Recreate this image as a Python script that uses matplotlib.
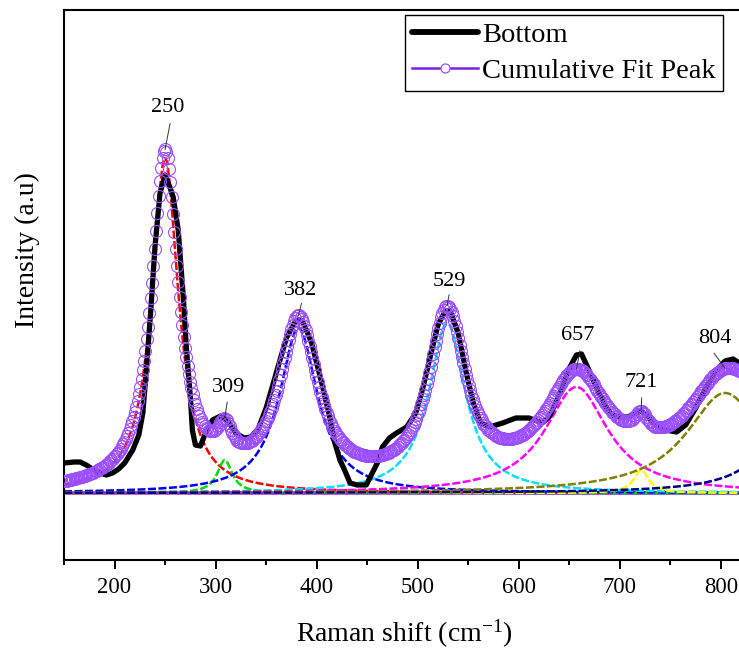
import numpy as np
import matplotlib
matplotlib.use("Agg")
import matplotlib.pyplot as plt
from matplotlib.lines import Line2D
from matplotlib.ticker import MultipleLocator

plt.rcParams['font.family'] = ['Liberation Serif', 'DejaVu Serif']
plt.rcParams['mathtext.fontset'] = 'custom'
plt.rcParams['mathtext.rm'] = 'Liberation Serif'
plt.rcParams['mathtext.it'] = 'Liberation Serif:italic'

# Measured Raman spectrum (bottom sample)
shift = [150, 160, 166, 172, 178, 186, 192, 198, 204, 210, 218, 224, 228, 232,
         236, 240, 245, 250, 255, 258, 263, 268, 271, 275, 277, 280, 285, 290,
         297, 305, 312, 320, 328, 335, 342, 350, 360, 370, 378, 382, 386, 395,
         405, 412, 418, 423, 428, 433, 440, 449, 455, 460, 465, 472, 479, 489,
         498, 505, 512, 520, 527, 532, 540, 548, 555, 562, 571, 584, 597, 610,
         623, 630, 640, 650, 657, 662, 667, 675, 685, 692, 700, 708, 715, 721,
         728, 735, 745, 756, 765, 775, 785, 795, 804, 812, 818]
intensity = [30, 31, 31, 28, 24, 20, 18, 20, 24, 30, 43, 58, 80, 130,
             185, 246, 300, 318, 305, 296, 263, 196, 146, 96, 63, 48, 47, 60,
             73, 77, 72, 60, 55, 56, 64, 85, 120, 155, 170, 173, 172, 150,
             110, 80, 50, 33, 22, 10, 8, 8, 20, 30, 46, 55, 60, 66,
             80, 105, 135, 168, 182, 182, 160, 120, 90, 70, 66, 70, 75, 75,
             70, 76, 98, 125, 138, 139, 128, 110, 88, 78, 76, 76, 80, 82,
             76, 68, 63, 61, 68, 85, 105, 122, 132, 134, 130]

# Lorentzian components of the multi-peak fit
peak_centers = [250, 309, 382, 529, 657, 721, 804, 875]
peak_heights = [335, 33, 165, 170, 106, 23, 100, 95]
peak_hwhm = [16, 9, 23, 22, 38, 9, 47, 32]
peak_colors = ['#FF0000', '#00DD00', '#0000FF', '#00E0FF',
               '#FF00FF', '#FFFF00', '#808000', '#000080']
peak_labels = ['250', '309', '382', '529', '657', '721', '804']

# label placement (pixel offsets from the fitted curve at each centre)
label_text_offsets = [(3, 42), (3.5, 31), (2, 25), (2, 24), (1.5, 33), (0.5, 28), (-10, 30)]
leader_offsets = [((5, 26), (1, 13)), ((2.5, 16), (1.5, 10)), ((3, 12), (3, 10)),
                  ((2, 11), (2, 9)), ((3.5, 18), (2.5, 12)), ((0.5, 13), (0.5, 11)),
                  ((-11, 15), (-7, 11))]


def lorentz(x, c, h, w):
    return h / (1.0 + ((x - c) / w) ** 2)


xfit = np.arange(150, 835, 1.3)
components = [lorentz(xfit, c, h, w) for c, h, w in zip(peak_centers, peak_heights, peak_hwhm)]
cumulative = np.sum(components, axis=0)

fit_line = '#7B1FE6'
fit_ring = '#9A4EFF'

fig = plt.figure(figsize=(7.39, 6.51), dpi=100)
ax = fig.add_axes([64 / 739, 91 / 651, 675 / 739, 550 / 651])

ax.axhline(0, color='#8A2BE2', lw=2.6, zorder=1)
for comp, col in zip(components, peak_colors):
    ax.plot(xfit, comp, color=col, lw=1.8, ls=(0, (3.2, 1.0)), zorder=2)

ax.plot(shift, intensity, color='black', lw=3.8, solid_joinstyle='round',
        solid_capstyle='round', zorder=3)
ax.plot(xfit, cumulative, ls='none', marker='o', ms=8.6,
        mfc='none', mec=fit_ring, mew=0.8, zorder=4)

for c, lab, toff, (l1, l2) in zip(peak_centers, peak_labels, label_text_offsets, leader_offsets):
    yc = float(np.sum([lorentz(c, pc, ph, pw) for pc, ph, pw in
                       zip(peak_centers, peak_heights, peak_hwhm)]))
    ax.annotate(lab, xy=(c, yc), xytext=toff, textcoords='offset pixels',
                ha='center', va='center', fontsize=16, zorder=6)
    ax.annotate('', xy=(c, yc), xytext=l1, textcoords='offset pixels', zorder=6,
                arrowprops=dict(arrowstyle='-', lw=0.7, color='#333333',
                                shrinkA=0, shrinkB=0,
                                patchA=None, patchB=None,
                                relpos=(0.5, 0.5)))

ax.set_xlim(150, 817.8)
ax.set_ylim(-67, 483)
ax.xaxis.set_major_locator(MultipleLocator(100))
ax.xaxis.set_minor_locator(MultipleLocator(50))
ax.tick_params(axis='x', which='major', direction='out', length=6.5, width=1.4,
               labelsize=16.3, pad=6)
ax.tick_params(axis='x', which='minor', direction='out', length=3.6, width=1.4)
ax.set_yticks([])
for side in ['left', 'top', 'bottom']:
    ax.spines[side].set_linewidth(1.5)
ax.spines['right'].set_visible(False)

ax.set_xlabel('Raman shift (cm$^{-1}$)', fontsize=20)
ax.xaxis.set_label_coords(0.504, -0.105)
ax.set_ylabel('Intensity (a.u)', fontsize=20)
ax.yaxis.set_label_coords(-0.036, 0.564)

handles = [Line2D([], [], color='black', lw=4.2, solid_capstyle='round'),
           Line2D([], [], color=fit_line, lw=1.8, marker='o', ms=6.5,
                  mfc='white', mec=fit_ring, mew=0.9)]
leg = ax.legend(handles, ['Bottom', 'Cumulative Fit Peak'],
                loc='upper right', bbox_to_anchor=(0.976, 0.991), borderaxespad=0,
                fontsize=20.5, numpoints=1, handlelength=2.3, handletextpad=0.15,
                labelspacing=0.35, borderpad=0.25, fancybox=False, framealpha=1,
                edgecolor='black')
leg.get_frame().set_linewidth(1.0)

fig.savefig('out.png', dpi=100)
